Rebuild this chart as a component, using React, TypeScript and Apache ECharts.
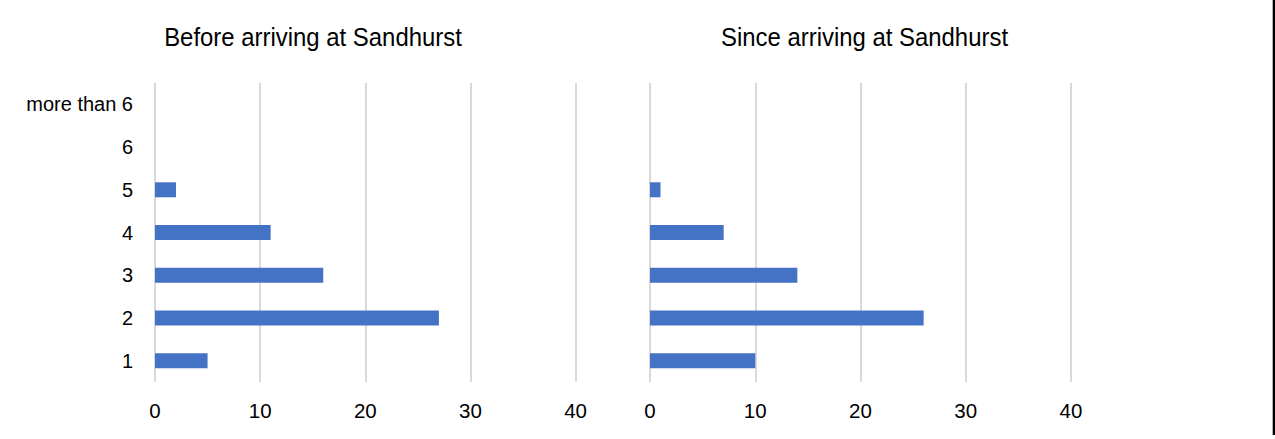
import React, { useEffect, useRef } from "react";
import * as echarts from "echarts";

// Number of visits per person, grouped by count
const categories = ["1", "2", "3", "4", "5", "6", "more than 6"];
const beforeValues = [5, 27, 16, 11, 2, 0, 0];
const sinceValues = [10, 26, 14, 7, 1, 0, 0];
const panelTitles = ["Before arriving at Sandhurst", "Since arriving at Sandhurst"];

const FONT = "'Liberation Sans', Arial, sans-serif";
const BAR_COLOR = "#4472C4";
const GRID_COLOR = "#d9d9d9";

export default function App() {
  const ref = useRef<HTMLDivElement>(null);

  useEffect(() => {
    if (!ref.current) return;
    const chart = echarts.init(ref.current, undefined, { renderer: "svg" });

    const grids = [
      { left: 155, top: 83, width: 420.6, height: 299 },
      { left: 650, top: 83, width: 421, height: 299 },
    ];

    const xAxis = grids.map((_, i) => ({
      type: "value" as const,
      gridIndex: i,
      min: 0,
      max: 40,
      interval: 10,
      axisLine: { show: false },
      axisTick: { show: false },
      splitLine: { show: true, lineStyle: { color: GRID_COLOR, width: 2 } },
      axisLabel: { color: "#000", fontFamily: FONT, fontSize: 20.5, margin: 18 },
    }));

    const yAxis = grids.map((_, i) => ({
      type: "category" as const,
      gridIndex: i,
      data: categories,
      axisLine: { show: false },
      axisTick: { show: false },
      splitLine: { show: false },
      axisLabel: {
        show: i === 0,
        color: "#000",
        fontFamily: FONT,
        fontSize: 20,
        margin: 22,
      },
    }));

    chart.setOption({
      animation: false,
      backgroundColor: "#fff",
      grid: grids,
      xAxis,
      yAxis,
      series: [beforeValues, sinceValues].map((vals, i) => ({
        type: "bar",
        xAxisIndex: i,
        yAxisIndex: i,
        data: vals,
        barWidth: 15,
        itemStyle: { color: BAR_COLOR },
      })),
      graphic: [
        ...panelTitles.map((t, i) => ({
          type: "text",
          x: i === 0 ? 313 : 864.5,
          y: 37,
          scaleX: 0.92,
          style: {
            text: t,
            fill: "#000",
            font: `26px ${FONT}`,
            textAlign: "center",
            textVerticalAlign: "middle",
          },
        })),
        {
          type: "rect",
          shape: { x: 1272.7, y: 0, width: 2.3, height: 435 },
          style: { fill: "#000" },
        },
      ],
    });

    return () => chart.dispose();
  }, []);

  return (
    <div
      ref={ref}
      style={{ position: "fixed", left: 0, top: 0, width: 1275, height: 439 }}
    />
  );
}
